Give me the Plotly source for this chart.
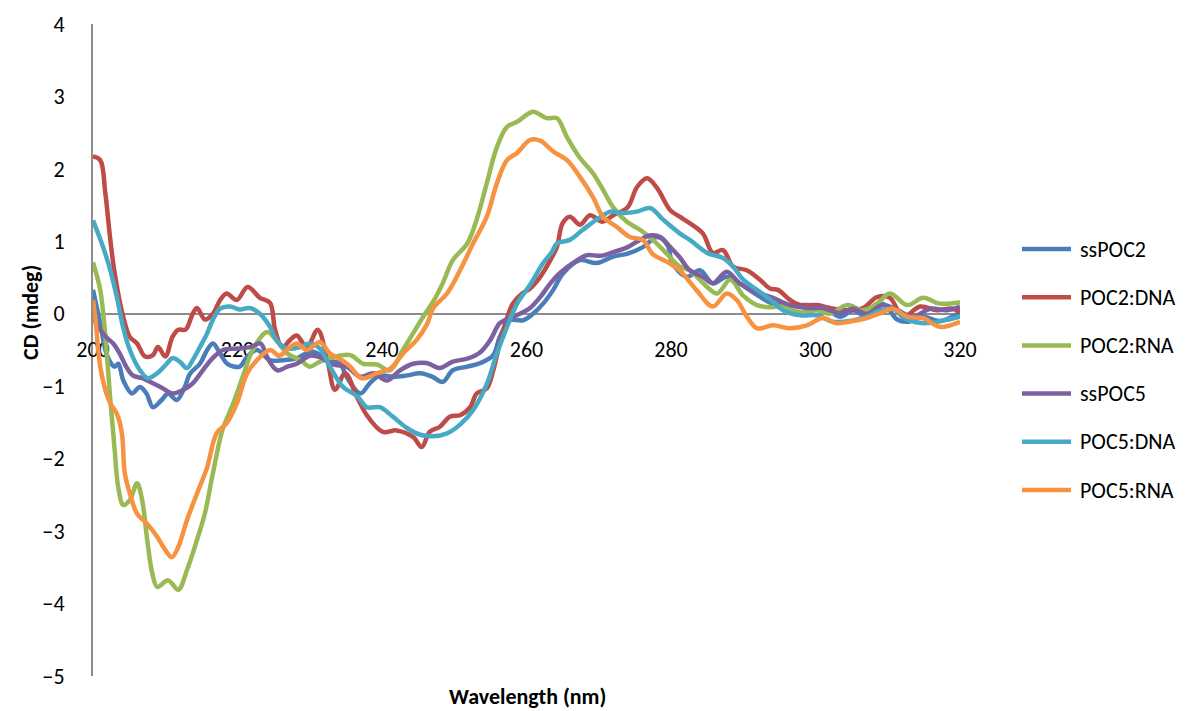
import plotly.graph_objects as go

# ---------------- data ----------------
series_names = ["ssPOC2", "POC2:DNA", "POC2:RNA", "ssPOC5", "POC5:DNA", "POC5:RNA"]
series_colors = ["#4A7EBB", "#BE4B48", "#98B954", "#7D60A0", "#46AAC5", "#F69240"]

wl_ssPOC2 = [200, 201, 202, 203, 203.5, 204.2, 205.4, 206.5, 207.4, 208.3, 209.5, 210.4, 211.6, 212.7, 213.4,
             214.8, 215.8, 216.6, 217.6, 218.6, 220.3, 221.3, 222.7, 224.5, 226.3, 228, 230.4, 232.4, 234.2,
             235.1, 237, 238.3, 239.7, 241.5, 243.5, 245.3, 247, 248.4, 249.8, 251.8, 253.6, 255.4, 256.3,
             257.7, 259.5, 260.9, 262.3, 263.7, 265, 267.4, 269.7, 272, 274, 276.1, 278.1, 279.5, 280.2,
             282.2, 284, 285.8, 287.7, 289.5, 291.3, 294.1, 296.5, 298.8, 301, 303.4, 305.2, 307.1, 309.3,
             311.3, 312.7, 314.9, 317.2, 320]
cd_ssPOC2 = [0.33, -0.13, -0.59, -0.73, -0.69, -0.92, -1.10, -1.01, -1.10, -1.29, -1.19, -1.10, -1.19, -1.01,
             -0.83, -0.69, -0.50, -0.41, -0.55, -0.69, -0.73, -0.60, -0.50, -0.64, -0.64, -0.62, -0.52, -0.64,
             -0.69, -0.87, -1.10, -0.96, -0.85, -0.87, -0.85, -0.82, -0.87, -0.94, -0.78, -0.73, -0.68, -0.57,
             -0.32, -0.09, -0.09, 0.00, 0.14, 0.33, 0.55, 0.74, 0.70, 0.79, 0.83, 0.92, 1.06, 0.95, 0.70, 0.51,
             0.60, 0.42, 0.51, 0.42, 0.30, 0.14, 0.12, 0.12, 0.10, -0.04, 0.05, -0.04, 0.14, -0.08, -0.11,
             -0.04, -0.10, 0.02]

wl_POC2_DNA = [200, 201, 201.7, 202.4, 203, 204.2, 205.1, 206.1, 207.2, 208.3, 209, 210, 211, 211.8, 212.8,
               213.8, 214.4, 215.5, 216.6, 217.6, 218.5, 219.9, 221.4, 223.1, 224.5, 225.2, 226.2, 227.3, 228.2,
               229.6, 231.1, 232.4, 233.5, 234.9, 236.5, 237.9, 240.1, 242, 244.3, 245.5, 246.6, 248, 249.4,
               250.8, 252.2, 253.1, 254.5, 255.4, 256.3, 257.3, 258.1, 259.4, 260.5, 261.9, 263.3, 264.2, 265,
               266, 267.4, 268.8, 270.5, 272, 274, 275.3, 276.7, 278.1, 279.9, 281.2, 282.6, 284.4, 285.8,
               287.2, 288.6, 290.5, 292.3, 293.7, 294.8, 296.5, 297.9, 300.2, 302, 304.4, 306.6, 308.5, 310.3,
               312.1, 314.5, 316.8, 319, 320]
cd_POC2_DNA = [2.17, 2.12, 1.67, 1.02, 0.56, -0.05, -0.32, -0.41, -0.59, -0.57, -0.46, -0.59, -0.32, -0.22,
               -0.22, 0.00, 0.08, -0.08, 0.00, 0.19, 0.28, 0.19, 0.37, 0.22, 0.15, -0.22, -0.46, -0.36, -0.30,
               -0.46, -0.22, -0.62, -1.05, -0.82, -1.14, -1.40, -1.63, -1.61, -1.70, -1.84, -1.63, -1.56, -1.42,
               -1.40, -1.29, -1.10, -1.03, -0.78, -0.41, -0.06, 0.14, 0.28, 0.35, 0.51, 0.74, 0.92, 1.25, 1.34,
               1.23, 1.36, 1.27, 1.36, 1.47, 1.75, 1.87, 1.73, 1.43, 1.34, 1.25, 1.11, 0.84, 0.88, 0.65, 0.60,
               0.47, 0.35, 0.33, 0.19, 0.12, 0.12, 0.08, 0.05, 0.08, 0.23, 0.22, -0.04, 0.10, 0.05, 0.07, 0.02]

wl_POC2_RNA = [200, 201, 201.7, 202.4, 203, 203.5, 204.2, 205.1, 206.1, 206.8, 207.5, 208.2, 208.9, 210.4,
               211.8, 213, 214.4, 215.5, 216.6, 217.9, 219.4, 220.8, 222.1, 224.1, 225.5, 226.9, 228.7, 230,
               231.4, 233.2, 235.6, 237.4, 239.3, 241.1, 242.9, 244.3, 245.7, 247.1, 248.4, 249.8, 251.8, 253.1,
               254.5, 255.9, 257.3, 258.7, 260.9, 262.8, 264.2, 265.6, 267.4, 269.2, 270.6, 272, 273.9, 275.7,
               277.5, 279.4, 281.2, 282.6, 285, 286.4, 288.2, 290, 291.9, 293.7, 295.5, 297.9, 300.2, 302, 304.4,
               306.6, 308.5, 310.3, 312.7, 314.9, 317.2, 320]
cd_POC2_RNA = [0.71, 0.33, -0.30, -1.19, -1.88, -2.40, -2.64, -2.57, -2.34, -2.57, -3.12, -3.58, -3.77, -3.68,
               -3.81, -3.54, -3.12, -2.75, -2.20, -1.61, -1.24, -0.85, -0.50, -0.25, -0.38, -0.55, -0.64, -0.73,
               -0.66, -0.60, -0.57, -0.69, -0.70, -0.78, -0.50, -0.27, -0.04, 0.17, 0.42, 0.74, 0.97, 1.30, 1.80,
               2.30, 2.58, 2.65, 2.79, 2.70, 2.70, 2.44, 2.15, 1.94, 1.71, 1.47, 1.27, 1.16, 1.02, 0.83, 0.65,
               0.60, 0.37, 0.28, 0.47, 0.25, 0.12, 0.09, 0.10, 0.02, 0.05, 0.00, 0.12, 0.05, 0.14, 0.28, 0.12,
               0.22, 0.14, 0.16]

wl_ssPOC5 = [200, 201, 202, 202.8, 203.7, 204.6, 205.5, 206.8, 208.3, 209.7, 211, 212.5, 213.8, 215.2, 216.6,
             218, 220, 221.8, 223.2, 224.1, 225.5, 226.9, 228.2, 230, 231.4, 233.2, 235.1, 237, 238.8, 240.7,
             242.5, 244.3, 246.2, 248, 249.8, 251.8, 253.6, 255, 256.3, 257.7, 259.1, 260.5, 261.9, 263.3,
             264.6, 266.4, 268.4, 270.2, 272, 274, 275.7, 277.1, 278.5, 279.9, 281.2, 282.6, 284.4, 285.8,
             287.7, 289.5, 291.3, 294.1, 296.5, 298.8, 301, 303.4, 305.2, 307.1, 309.3, 311.3, 313.5, 315.9,
             318.2, 320]
cd_ssPOC5 = [-0.05, -0.22, -0.34, -0.41, -0.55, -0.73, -0.85, -0.89, -0.96, -1.03, -1.10, -1.05, -0.96, -0.78,
             -0.61, -0.50, -0.48, -0.46, -0.41, -0.60, -0.78, -0.73, -0.69, -0.58, -0.60, -0.70, -0.73, -0.87,
             -0.82, -0.92, -0.78, -0.69, -0.68, -0.75, -0.66, -0.62, -0.53, -0.36, -0.13, -0.06, 0.00, 0.08,
             0.23, 0.42, 0.56, 0.70, 0.81, 0.80, 0.85, 0.92, 1.02, 1.08, 1.06, 0.92, 0.78, 0.60, 0.51, 0.42,
             0.58, 0.42, 0.32, 0.22, 0.12, 0.08, 0.08, 0.01, 0.07, 0.00, 0.12, 0.05, -0.04, 0.07, 0.05, 0.10]

wl_POC5_DNA = [200, 201.4, 202.4, 203.3, 204.2, 205.1, 206.5, 207.6, 208.9, 210.2, 211, 212, 213, 213.8, 214.8,
               215.8, 216.6, 217.6, 219, 220.3, 221.7, 223.1, 224.5, 225.5, 226.9, 228.7, 230, 231.4, 232.8,
               234.6, 236.6, 237.9, 239.7, 241.5, 243.5, 245.3, 247, 249, 250.8, 252.6, 254.5, 255.9, 257.3,
               258.7, 260.5, 262.3, 263.5, 264.2, 266, 267.8, 269.7, 271.6, 273.4, 275.3, 277.1, 278.9, 281.2,
               282.6, 285, 287.2, 288.6, 290, 291.9, 293.7, 295.5, 297.9, 300.2, 302.4, 304.8, 307.1, 309,
               310.7, 312.7, 315, 317.4, 320]
cd_POC5_DNA = [1.29, 0.92, 0.60, 0.23, -0.20, -0.50, -0.78, -0.89, -0.82, -0.69, -0.61, -0.66, -0.75, -0.64,
               -0.46, -0.27, -0.08, 0.07, 0.10, 0.06, 0.08, 0.00, -0.18, -0.38, -0.48, -0.46, -0.41, -0.48,
               -0.73, -1.01, -1.14, -1.29, -1.29, -1.42, -1.58, -1.67, -1.69, -1.65, -1.53, -1.33, -0.97, -0.55,
               -0.18, 0.14, 0.40, 0.70, 0.85, 0.97, 1.02, 1.16, 1.30, 1.41, 1.39, 1.41, 1.46, 1.30, 1.11, 1.02,
               0.84, 0.77, 0.65, 0.47, 0.33, 0.20, 0.05, -0.02, -0.02, -0.11, -0.10, -0.04, 0.05, 0.07, -0.08,
               -0.13, -0.10, -0.04]

wl_POC5_RNA = [200, 200.3, 201, 201.7, 202.4, 203.3, 204, 204.4, 205.1, 206.1, 207.5, 208.9, 210, 210.9, 211.8,
               213, 214.4, 215.8, 217.1, 218.5, 219.9, 221.3, 222.7, 224.5, 225.8, 226.8, 228.2, 229.6, 231.4,
               232.8, 234.6, 235.6, 237.2, 239.3, 241.1, 242.9, 244.8, 246.2, 247.1, 249, 250.8, 252.6, 254.5,
               255.9, 257.3, 258.7, 260.5, 261.9, 263.7, 265.6, 267.4, 269.2, 270.6, 272.5, 274.3, 276.1, 277.5,
               279.4, 281.2, 283.5, 285.8, 287.7, 289.1, 290.5, 291.9, 294.1, 296.5, 298.8, 301, 302.9, 305.2,
               307.1, 309, 310.7, 312.7, 314.9, 317.2, 320]
cd_POC5_RNA = [0.19, -0.04, -0.73, -1.05, -1.24, -1.38, -1.65, -2.20, -2.48, -2.76, -2.90, -3.08, -3.26, -3.36,
               -3.22, -2.85, -2.48, -2.12, -1.65, -1.51, -1.24, -0.83, -0.64, -0.50, -0.58, -0.50, -0.41, -0.50,
               -0.39, -0.55, -0.65, -0.73, -0.89, -0.82, -0.76, -0.55, -0.36, -0.15, 0.08, 0.28, 0.60, 0.97,
               1.34, 1.80, 2.12, 2.22, 2.40, 2.39, 2.24, 2.12, 1.89, 1.61, 1.34, 1.20, 1.06, 1.02, 0.82, 0.72,
               0.60, 0.33, 0.10, 0.28, 0.19, -0.04, -0.20, -0.16, -0.20, -0.16, -0.06, -0.13, -0.10, -0.06, 0.01,
               0.07, -0.04, -0.06, -0.18, -0.11]

x_ticks = [200, 220, 240, 260, 280, 300, 320]
y_ticks = [-5, -4, -3, -2, -1, 0, 1, 2, 3, 4]

all_wl = [wl_ssPOC2, wl_POC2_DNA, wl_POC2_RNA, wl_ssPOC5, wl_POC5_DNA, wl_POC5_RNA]
all_cd = [cd_ssPOC2, cd_POC2_DNA, cd_POC2_RNA, cd_ssPOC5, cd_POC5_DNA, cd_POC5_RNA]

FONT = "Carlito, Calibri, Lato, sans-serif"
TICK_SIZE = 22
LINE_W = 4.5

# ---------------- figure geometry (page has an 8px body margin) ----------------
W, H = 1190, 703
ML, MR, MT, MB = 85, 238, 16, 35
PW = W - ML - MR
PH = H - MT - MB


def px_to_paper_x(px):
    return (px - ML) / PW


def px_to_paper_y(py):
    return (H - MB - py) / PH


fig = go.Figure()
for name, color, wl, cd in zip(series_names, series_colors, all_wl, all_cd):
    fig.add_trace(go.Scatter(
        x=wl, y=cd, name=name, mode="lines", showlegend=False,
        line=dict(color=color, width=LINE_W, shape="spline", smoothing=1.0),
    ))

# legend drawn as line samples + labels (Excel-style long samples)
shapes = []
annotations = []
legend_top = 241
legend_step = 48.2
for i, (name, color) in enumerate(zip(series_names, series_colors)):
    yy = px_to_paper_y(legend_top + i * legend_step)
    shapes.append(dict(type="line", xref="paper", yref="paper",
                       x0=px_to_paper_x(1014), x1=px_to_paper_x(1063), y0=yy, y1=yy,
                       line=dict(color=color, width=LINE_W), layer="above"))
    annotations.append(dict(text=name, xref="paper", yref="paper", x=px_to_paper_x(1070), y=yy,
                            xanchor="left", yanchor="middle", showarrow=False,
                            font=dict(family=FONT, size=TICK_SIZE, color="black")))

annotations.append(dict(text="<b>Wavelength (nm)</b>", xref="paper", yref="paper",
                        x=px_to_paper_x(519), y=px_to_paper_y(688),
                        xanchor="center", yanchor="middle", showarrow=False,
                        font=dict(family=FONT, size=TICK_SIZE, color="black")))
annotations.append(dict(text="<b>CD (mdeg)</b>", xref="paper", yref="paper",
                        x=px_to_paper_x(22), y=px_to_paper_y(305),
                        xanchor="center", yanchor="middle", textangle=-90, showarrow=False,
                        font=dict(family=FONT, size=TICK_SIZE, color="black")))

fig.update_layout(
    width=W, height=H,
    margin=dict(l=ML, r=MR, t=MT, b=MB, autoexpand=False),
    paper_bgcolor="white", plot_bgcolor="white",
    font=dict(family=FONT, size=TICK_SIZE, color="black"),
    showlegend=False,
    xaxis=dict(range=[200, 320], tickvals=x_ticks, showgrid=False, zeroline=False,
               showline=True, linecolor="#8C8C8C", linewidth=2, automargin=False,
               anchor="free", position=5 / 9, ticks="", ticklabelstandoff=16,
               tickfont=dict(family=FONT, size=TICK_SIZE, color="black"), layer="below traces"),
    yaxis=dict(range=[-5, 4], tickvals=y_ticks, showgrid=False, zeroline=False,
               showline=True, linecolor="#8C8C8C", linewidth=2, ticks="", automargin=False,
               ticklabelstandoff=22, tickfont=dict(family=FONT, size=TICK_SIZE, color="black"),
               layer="below traces"),
    shapes=shapes,
    annotations=annotations,
)

fig.write_html("out.html")
